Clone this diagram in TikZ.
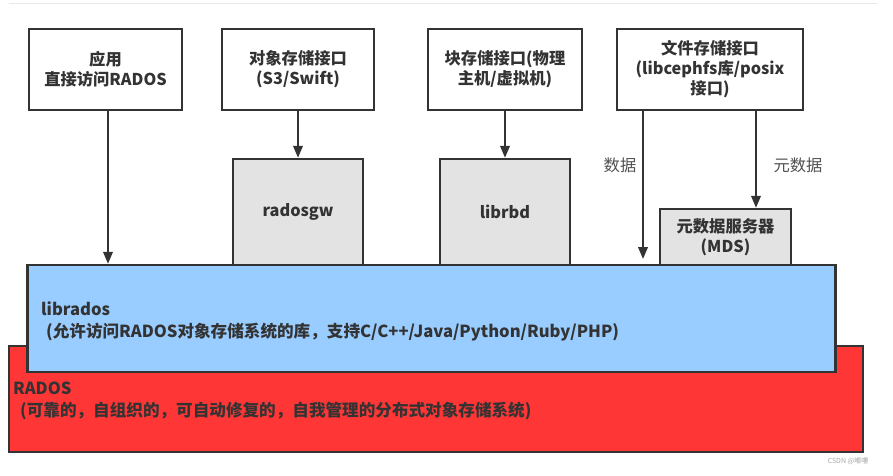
\documentclass[tikz,border=0pt]{standalone}
\usepackage{fontspec}
\setmainfont{Noto Sans CJK SC}
\usetikzlibrary{arrows.meta}
\definecolor{ink}{HTML}{333333}
\definecolor{txt}{HTML}{333333}
\definecolor{graybox}{HTML}{E3E3E3}
\definecolor{blueL}{HTML}{99CCFF}
\definecolor{redR}{HTML}{FF3636}
\begin{document}
\begin{tikzpicture}[x=1pt,y=-1pt,
  box/.style={draw=ink,line width=2.4pt,fill=white,inner sep=0pt,align=center,
    font=\fontsize{16.3}{20}\selectfont\bfseries,text=txt},
  libbox/.style={box,fill=graybox},
  arr/.style={draw=ink,line width=2.2pt,-{Triangle[width=9.5pt,length=12pt]}},
  lbl/.style={font=\fontsize{16.3}{20}\selectfont,text=txt!85!white,inner sep=0pt},
  bigtxt/.style={anchor=west,inner sep=0pt,align=left,text=txt,font=\fontsize{16.6}{22}\selectfont\bfseries}]
\useasboundingbox (0,0) rectangle (893,475);
\draw[gray!18,line width=1pt] (9,3) -- (877,3);
% bottom layers
\node[box,fill=redR,minimum width=854pt,minimum height=106pt] (rados) at (436,399) {};
\node[box,minimum width=153pt,minimum height=81pt] (app) at (105.5,69.5) {应用\\直接访问RADOS};
\node[box,minimum width=152pt,minimum height=81pt] (obj) at (298,69.5) {对象存储接口\\(S3/Swift)};
\node[box,minimum width=154pt,minimum height=81pt] (blk) at (505,69.5) {块存储接口(物理\\主机/虚拟机)};
\node[box,minimum width=186pt,minimum height=81pt] (fs) at (710,69.5) {文件存储接口\\(libcephfs库/posix\\接口)};
\node[libbox,minimum width=130pt,minimum height=106pt] (rgw) at (298,212) {radosgw};
\node[libbox,minimum width=130pt,minimum height=106pt] (rbd) at (505,212) {librbd};
\node[libbox,minimum width=131pt,minimum height=56pt] (mds) at (725.5,237) {元数据服务器\\(MDS)};
\node[box,fill=blueL,minimum width=808pt,minimum height=107pt] (librados) at (431.5,318.5) {};
\node[bigtxt] (libtxt) at (41,321)
  {librados\\\hspace*{5pt}(允许访问RADOS对象存储系统的库，支持C/C++/Java/Python/Ruby/PHP)};
\node[bigtxt] (radtxt) at (13,401)
  {RADOS\\\hspace*{7pt}(可靠的，自组织的，可自动修复的，自我管理的分布式对象存储系统)};
% arrows
\coordinate (dtop) at (643,110);
\coordinate (dend) at (643,259);
\coordinate (mtop) at (756,110);
\draw[arr] ([xshift=2.5pt]app.south) -- ([xshift=2.5pt]app.south |- librados.north);
\draw[arr] (obj.south) -- (rgw.north);
\draw[arr] (blk.south) -- (rbd.north);
\draw[arr] (dtop) -- (dend);
\draw[arr] (mtop) -- (mtop |- mds.north);
\node[lbl] (ldata) at (620,165) {数据};
\node[lbl] (lmeta) at (798,165) {元数据};
\node[inner sep=0pt,text=gray!70,font=\fontsize{7}{8}\selectfont] (wm) at (848,461) {CSDN @嘟嘍};
\end{tikzpicture}
\end{document}
